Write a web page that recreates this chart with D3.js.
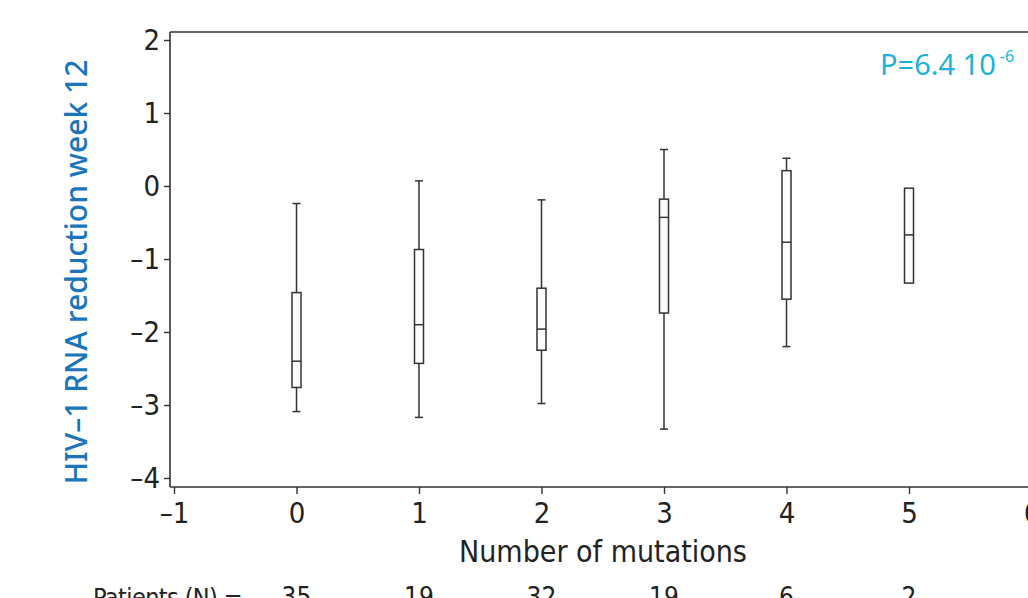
<!DOCTYPE html>
<html>
<head>
<meta charset="UTF-8">
<script src="https://d3js.org/d3.v7.min.js"></script>
<style>
  body { margin: 0; background: #fff; }
  svg { display: block; }
  .tick text { font-family: "Liberation Sans Narrow", "DejaVu Sans Condensed", sans-serif; }
</style>
</head>
<body>
<div id="my_dataviz"></div>
<script>
// number of mutations groups
var groups   = [0, 1, 2, 3, 4, 5];
var patients = [35, 19, 32, 19, 6, 2];
// box plot stats per group (log10 copies/mL reduction)
var whiskerHi = [-0.24, 0.07, -0.19, 0.50, 0.38, null];
var q3        = [-1.46, -0.87, -1.40, -0.18, 0.21, -0.03];
var medians   = [-2.40, -1.90, -1.96, -0.43, -0.77, -0.67];
var q1        = [-2.76, -2.43, -2.25, -1.74, -1.55, -1.33];
var whiskerLo = [-3.09, -3.17, -2.98, -3.33, -2.20, null];
var xTicks = [-1, 0, 1, 2, 3, 4, 5, 6];
var yTicks = [2, 1, 0, -1, -2, -3, -4];

var W = 1028, H = 598;
var svg = d3.select("#my_dataviz").append("svg")
  .attr("width", W).attr("height", H);

var x = d3.scaleLinear().domain([-1, 6]).range([174, 1031.5]);
var y = d3.scaleLinear().domain([-4, 2]).range([478, 40]);

var plotLeft = 170, plotTop = 32, plotBottom = 487, plotRight = 1060;
var ink = "#333";
var condensed = '"Liberation Sans Narrow", "DejaVu Sans Condensed", sans-serif';

// frame (top line)
svg.append("line")
  .attr("x1", plotLeft).attr("x2", plotRight).attr("y1", plotTop).attr("y2", plotTop)
  .attr("stroke", ink).attr("stroke-width", 1.6);

var fmt = function(d) { return d < 0 ? "\u2013" + Math.abs(d) : d; };

// Y axis
var yAxis = svg.append("g")
  .attr("transform", "translate(" + plotLeft + ",0)")
  .call(d3.axisLeft(y).tickValues(yTicks).tickFormat(fmt).tickSize(6).tickPadding(4));
yAxis.select(".domain").attr("d", "M0," + plotTop + "V" + plotBottom);

// X axis
var xAxis = svg.append("g")
  .attr("transform", "translate(0," + plotBottom + ")")
  .call(d3.axisBottom(x).tickValues(xTicks).tickFormat(fmt).tickSize(7).tickPadding(8));
xAxis.select(".domain").attr("d", "M" + plotLeft + ",0H" + plotRight);

svg.selectAll(".domain").attr("stroke", ink).attr("stroke-width", 1.6);
svg.selectAll(".tick line").attr("stroke", ink).attr("stroke-width", 1.4);
svg.selectAll(".tick text").attr("fill", "#222").style("font-size", "29px");

// axis titles
svg.append("text")
  .attr("x", 603).attr("y", 562)
  .attr("text-anchor", "middle")
  .style("font-family", condensed).style("font-size", "30px").attr("fill", "#222")
  .text("Number of mutations");

svg.append("text")
  .attr("transform", "translate(87,272) rotate(-90)")
  .attr("text-anchor", "middle")
  .style("font-family", '"Noto Sans", sans-serif').style("font-size", "30px")
  .style("font-weight", 500).attr("fill", "#1a75bb")
  .text("HIV\u20131 RNA reduction week 12");

// P value
var p = svg.append("text")
  .attr("x", 880).attr("y", 75)
  .style("font-family", '"Noto Sans", sans-serif').style("font-size", "29px")
  .attr("fill", "#1cb2da");
p.append("tspan").text("P=6.4 10");
p.append("tspan").attr("dx", 4).attr("dy", -13).style("font-size", "16px").text("-6");

// patients row
svg.append("text")
  .attr("x", 93).attr("y", 606)
  .style("font-family", condensed).style("font-size", "25px")
  .style("letter-spacing", "-0.6px").attr("fill", "#222")
  .text("Patients (N) =");
svg.selectAll(".nlab").data(groups).enter().append("text")
  .attr("x", function(d) { return x(d); }).attr("y", 606)
  .attr("text-anchor", "middle")
  .style("font-family", condensed).style("font-size", "26px").attr("fill", "#222")
  .text(function(d, i) { return patients[i]; });

// boxes
var bw = 9, cap = 8;
var g = svg.append("g").attr("stroke", ink).attr("stroke-width", 1.5).attr("fill", "#fff");
groups.forEach(function(d, i) {
  var cx = x(d);
  if (whiskerHi[i] !== null) {
    g.append("line").attr("x1", cx).attr("x2", cx).attr("y1", y(whiskerHi[i])).attr("y2", y(q3[i]));
    g.append("line").attr("x1", cx - cap / 2).attr("x2", cx + cap / 2).attr("y1", y(whiskerHi[i])).attr("y2", y(whiskerHi[i]));
  }
  if (whiskerLo[i] !== null) {
    g.append("line").attr("x1", cx).attr("x2", cx).attr("y1", y(q1[i])).attr("y2", y(whiskerLo[i]));
    g.append("line").attr("x1", cx - cap / 2).attr("x2", cx + cap / 2).attr("y1", y(whiskerLo[i])).attr("y2", y(whiskerLo[i]));
  }
  g.append("rect").attr("x", cx - bw / 2).attr("width", bw)
    .attr("y", y(q3[i])).attr("height", y(q1[i]) - y(q3[i]));
  g.append("line").attr("x1", cx - bw / 2).attr("x2", cx + bw / 2).attr("y1", y(medians[i])).attr("y2", y(medians[i]));
});
</script>
</body>
</html>
